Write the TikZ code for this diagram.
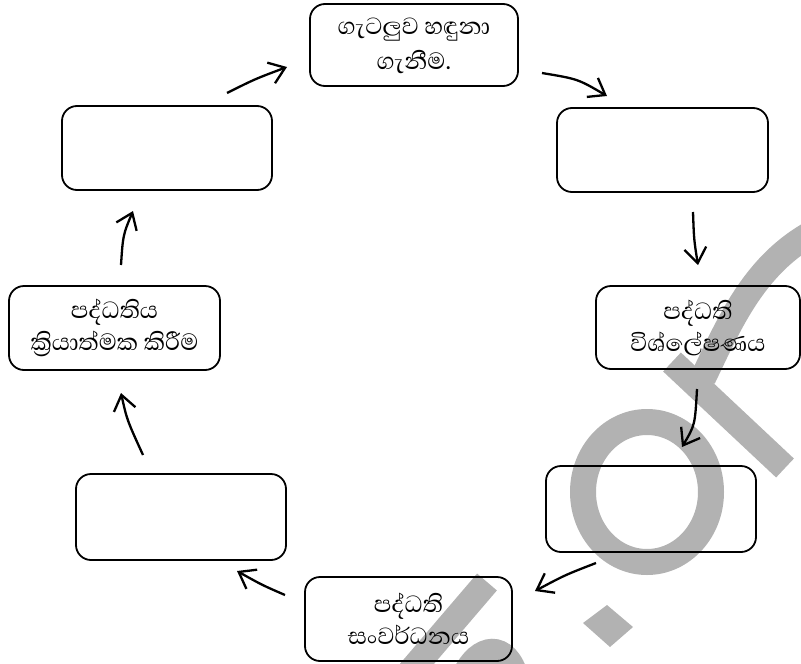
\documentclass[tikz,border=0pt]{standalone}
\usepackage{fontspec}
\newfontfamily\sinhalafont[Script=Sinhala]{Abhaya Libre}
\usetikzlibrary{arrows.meta}
\begin{document}
\begin{tikzpicture}[x=1pt,y=-1pt,
  box/.style={draw, line width=1.8pt, rounded corners=15pt, align=center, inner sep=0pt,
    font=\sinhalafont\fontsize{30}{32}\selectfont},
  arr/.style={line width=2.3pt, -{Straight Barb[length=15pt,width=22pt]}},
  wm/.style={draw=black!30, line width=26pt}]
\useasboundingbox (0,0) rectangle (801,664);
% watermark
\draw[wm] (647,492) ellipse [x radius=64, y radius=70];
\draw[wm] (672,362) -- (785,468);
\draw[wm] (703,378) .. controls (730,322) and (755,262) .. (818,230);
\draw[wm] (487,582) -- (410,672);
\draw[wm] (462,682) .. controls (475,648) and (502,640) .. (514,672);
\fill[black!30] (607,605) -- (633,627) -- (610,647) -- (583,623) -- cycle;
% boxes
\node[box, minimum width=208pt, minimum height=82pt] (top) at (414,45)
  {\raisebox{-7pt}{\renewcommand\arraystretch{1.08}\begin{tabular}{@{}c@{}}ගැටලුව හඳුනා\\ගැනීම.\end{tabular}}};
\node[box, minimum width=211pt, minimum height=84pt] (tr) at (662.5,150) {};
\node[box, minimum width=204pt, minimum height=83pt] (rt) at (698,327.5) {පද්ධති\\විශ්ලේෂණය};
\node[box, minimum width=210pt, minimum height=86pt] (br) at (651,509) {};
\node[box, minimum width=207pt, minimum height=84pt] (bt) at (408.5,619) {පද්ධති\\සංවර්ධනය};
\node[box, minimum width=210pt, minimum height=86pt] (bl) at (181,517) {};
\node[box, minimum width=211pt, minimum height=84pt] (lf) at (114.5,328) {පද්ධතිය\\ක්^^^^200dරියාත්මක කිරීම};
\node[box, minimum width=210pt, minimum height=84pt] (tl) at (167,148) {};
% arrow ends
\coordinate (a1s) at (227,93);  \coordinate (a1e) at (287,67);
\coordinate (a2s) at (542,73);  \coordinate (a2e) at (607,96);
\coordinate (a3s) at (693,212); \coordinate (a3e) at (698,265);
\coordinate (a4s) at (697,389); \coordinate (a4e) at (682,447);
\coordinate (a5s) at (596,563); \coordinate (a5e) at (535,591);
\coordinate (a6s) at (285,595); \coordinate (a6e) at (237,571);
\coordinate (a7s) at (143,455); \coordinate (a7e) at (121,393);
\coordinate (a8s) at (121,265); \coordinate (a8e) at (133,211);
\draw[arr] (a1s) .. controls (255,79) .. (a1e);
\draw[arr] (a2s) .. controls (578,79) .. (a2e);
\draw[arr] (a3s) .. controls (694,240) .. (a3e);
\draw[arr] (a4s) .. controls (695,425) .. (a4e);
\draw[arr] (a5s) .. controls (565,575) .. (a5e);
\draw[arr] (a6s) .. controls (262,585) .. (a6e);
\draw[arr] (a7s) .. controls (127,420) .. (a7e);
\draw[arr] (a8s) .. controls (123,235) .. (a8e);
\end{tikzpicture}
\end{document}
